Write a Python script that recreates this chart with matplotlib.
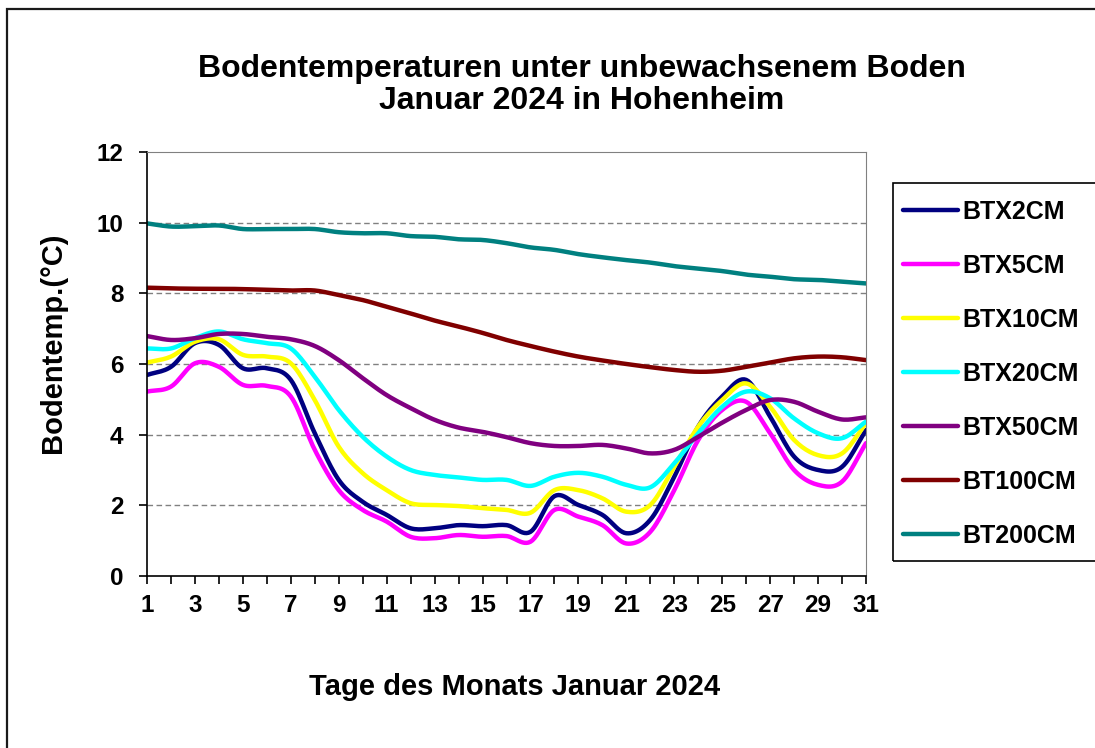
import numpy as np
import matplotlib
matplotlib.use("Agg")
import matplotlib.pyplot as plt
from matplotlib.patches import Rectangle

# Tage und Bodentemperaturen (Januar 2024, Hohenheim)
tage = list(range(1, 32))

btx2cm = [5.69, 5.92, 6.59, 6.54, 5.88, 5.88, 5.55, 4.04, 2.72, 2.10, 1.73, 1.35, 1.35, 1.44, 1.41, 1.44,
          1.25, 2.26, 2.01, 1.73, 1.21, 1.59, 2.81, 4.23, 5.08, 5.55, 4.51, 3.38, 3.00, 3.09, 4.13]
btx5cm = [5.22, 5.36, 6.02, 5.92, 5.41, 5.38, 5.08, 3.57, 2.43, 1.87, 1.54, 1.11, 1.07, 1.16, 1.11, 1.13,
          0.97, 1.87, 1.68, 1.44, 0.92, 1.25, 2.43, 3.85, 4.70, 4.93, 4.04, 3.00, 2.58, 2.67, 3.76]
btx10cm = [6.04, 6.21, 6.63, 6.70, 6.26, 6.21, 6.02, 4.98, 3.66, 2.91, 2.43, 2.06, 2.01, 1.98, 1.92, 1.87,
           1.79, 2.43, 2.43, 2.20, 1.82, 2.01, 3.09, 4.23, 4.98, 5.45, 4.79, 3.85, 3.42, 3.47, 4.32]
btx20cm = [6.44, 6.44, 6.73, 6.92, 6.70, 6.59, 6.44, 5.64, 4.70, 3.94, 3.38, 3.00, 2.86, 2.79, 2.72, 2.72,
           2.55, 2.81, 2.92, 2.81, 2.58, 2.51, 3.19, 4.04, 4.79, 5.22, 5.03, 4.46, 4.04, 3.90, 4.37]
btx50cm = [6.79, 6.68, 6.73, 6.85, 6.85, 6.77, 6.70, 6.51, 6.11, 5.60, 5.12, 4.75, 4.42, 4.20, 4.08, 3.93,
           3.76, 3.68, 3.68, 3.71, 3.61, 3.47, 3.57, 3.94, 4.34, 4.70, 4.98, 4.93, 4.65, 4.43, 4.49]
bt100cm = [8.16, 8.14, 8.13, 8.13, 8.12, 8.10, 8.08, 8.08, 7.95, 7.81, 7.62, 7.43, 7.23, 7.06, 6.88, 6.68,
           6.51, 6.35, 6.21, 6.10, 6.00, 5.91, 5.83, 5.78, 5.81, 5.92, 6.04, 6.16, 6.21, 6.19, 6.11]
bt200cm = [9.98, 9.89, 9.90, 9.92, 9.82, 9.82, 9.82, 9.82, 9.73, 9.70, 9.70, 9.62, 9.60, 9.53, 9.51, 9.42,
           9.30, 9.23, 9.11, 9.02, 8.94, 8.87, 8.77, 8.70, 8.63, 8.53, 8.47, 8.40, 8.38, 8.33, 8.28]

namen = ["BTX2CM", "BTX5CM", "BTX10CM", "BTX20CM", "BTX50CM", "BT100CM", "BT200CM"]
reihen = [btx2cm, btx5cm, btx10cm, btx20cm, btx50cm, bt100cm, bt200cm]
farben = ["#000080", "#FF00FF", "#FFFF00", "#00FFFF", "#800080", "#800000", "#008080"]


def glatt(x, y, n=12):
    # geglaettete Linie wie in Excel (Catmull-Rom durch die Messpunkte)
    x = np.asarray(x, float)
    y = np.asarray(y, float)
    px = np.concatenate([[2 * x[0] - x[1]], x, [2 * x[-1] - x[-2]]])
    py = np.concatenate([[2 * y[0] - y[1]], y, [2 * y[-1] - y[-2]]])
    t = np.linspace(0, 1, n, endpoint=False)
    xs, ys = [], []
    for i in range(1, len(px) - 2):
        for p, out in ((px, xs), (py, ys)):
            p0, p1, p2, p3 = p[i - 1], p[i], p[i + 1], p[i + 2]
            out.append(0.5 * (2 * p1 + (-p0 + p2) * t + (2 * p0 - 5 * p1 + 4 * p2 - p3) * t ** 2
                              + (-p0 + 3 * p1 - 3 * p2 + p3) * t ** 3))
    xs.append([x[-1]])
    ys.append([y[-1]])
    return np.concatenate(xs), np.concatenate(ys)


plt.rcParams['font.family'] = ['Liberation Sans', 'DejaVu Sans']
plt.rcParams['font.weight'] = 'bold'

W, H = 1095, 748
fig = plt.figure(figsize=(W / 100, H / 100), dpi=100)

# aeusserer Rahmen
fig.patches.append(Rectangle((7 / W, -0.05), 1.1, 1 - 9 / H + 0.05, transform=fig.transFigure,
                             fill=False, edgecolor="#1a1a1a", linewidth=1.6))

ax = fig.add_axes([147 / W, 1 - 576 / H, (866 - 147) / W, (576 - 152) / H])

for name, werte, farbe in zip(namen, reihen, farben):
    gx, gy = glatt(tage, werte)
    ax.plot(gx, gy, color=farbe, linewidth=3.2, label=name, solid_capstyle="round")

ax.set_xlim(1, 31)
ax.set_ylim(0, 12)
ax.set_xticks(tage)
ax.set_xticklabels([str(t) if t % 2 == 1 else "" for t in tage])
ax.set_yticks(range(0, 13, 2))
for y in range(2, 12, 2):
    ax.axhline(y, color="#808080", linewidth=1, linestyle=(0, (4, 2.5)), zorder=0)

ax.tick_params(axis="both", direction="out", length=6, width=1.2, labelsize=17.5, color="black")
ax.tick_params(axis="y", pad=11)
ax.tick_params(axis="x", pad=7)
for lab in ax.get_xticklabels() + ax.get_yticklabels():
    lab.set_fontweight("bold")

ax.spines["left"].set_color("black")
ax.spines["bottom"].set_color("black")
ax.spines["left"].set_linewidth(1.2)
ax.spines["bottom"].set_linewidth(1.2)
ax.spines["top"].set_color("#808080")
ax.spines["right"].set_color("#808080")

fig.text(582 / W, 1 - 85 / H, "Bodentemperaturen unter unbewachsenem Boden\nJanuar 2024 in Hohenheim",
         ha="center", va="center", fontsize=23, fontweight="bold", linespacing=1.05)
fig.text(515 / W, 1 - 687 / H, "Tage des Monats Januar 2024", ha="center", va="center",
         fontsize=21, fontweight="bold")
fig.text(53 / W, 1 - 343 / H, "Bodentemp.(°C)", ha="center", va="center", rotation=90,
         fontsize=21, fontweight="bold")

# Legende mit eckigem Rahmen
fig.patches.append(Rectangle((893 / W, 1 - 561 / H), 0.2, (561 - 183) / H, transform=fig.transFigure,
                             fill=False, edgecolor="black", linewidth=1.2))
leg = ax.legend(loc="upper left", bbox_to_anchor=(903 / W, 1 - 200 / H), bbox_transform=fig.transFigure,
                frameon=False, fontsize=18, handlelength=2.2, handletextpad=0.16, labelspacing=1.2,
                borderaxespad=0, borderpad=0)
for txt in leg.get_texts():
    txt.set_fontweight("bold")

fig.savefig("out.png", dpi=100)
